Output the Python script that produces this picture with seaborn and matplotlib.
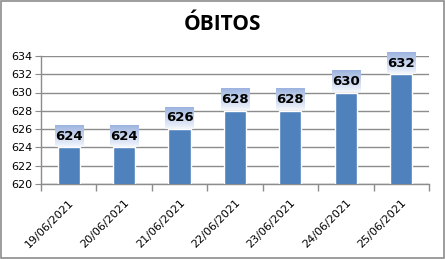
import numpy as np
import pandas as pd
import matplotlib
matplotlib.use("Agg")
import matplotlib.pyplot as plt
from matplotlib.patches import Rectangle
import seaborn as sns

dates = ["19/06/2021", "20/06/2021", "21/06/2021", "22/06/2021",
         "23/06/2021", "24/06/2021", "25/06/2021"]
obitos = [624, 624, 626, 628, 628, 630, 632]
title = "ÓBITOS"

sns.set_style("white")
plt.rcParams['font.family'] = ['DejaVu Sans']
plt.rcParams['text.color'] = 'black'
plt.rcParams['xtick.color'] = 'black'
plt.rcParams['ytick.color'] = 'black'

fig = plt.figure(figsize=(4.45, 2.59), dpi=100)
ax = fig.add_axes([0.092, 0.290, 0.872, 0.494])

df = pd.DataFrame({"data": dates, "obitos": obitos})
sns.barplot(data=df, x="data", y="obitos", color="#4F81BD", saturation=1,
            width=0.4, ax=ax, zorder=3)

ax.set_ylim(620, 634)
ax.set_yticks(np.arange(620, 635, 2))
ax.set_xlim(-0.5, len(dates) - 0.5)
ax.set_xlabel("")
ax.set_ylabel("")
ax.yaxis.grid(True, color="#8C8C8C", linewidth=1.0, zorder=0)
ax.set_axisbelow(True)
for s in ["top", "right"]:
    ax.spines[s].set_visible(False)
for s in ["left", "bottom"]:
    ax.spines[s].set_color("#8C8C8C")
    ax.spines[s].set_linewidth(1.0)

ax.tick_params(axis="y", left=True, length=4, color="#8C8C8C", labelsize=8,
               labelcolor="black", pad=2)
ax.set_xticks(np.arange(len(dates)))
ax.set_xticklabels(dates, rotation=45, ha="right", rotation_mode="anchor",
                   fontsize=8, color="black")
ax.tick_params(axis="x", bottom=False, pad=6)
ax.set_xticks(np.arange(-0.5, len(dates), 1), minor=True)
ax.tick_params(axis="x", which="minor", bottom=True, length=5,
               color="#8C8C8C", width=1.0)

# gradient value labels
grad = np.linspace(0, 1, 50).reshape(-1, 1)
cmap = matplotlib.colors.LinearSegmentedColormap.from_list(
    "g", ["#9DB4E0", "#F4F7FC"])
box_h = 2.35
for i, v in enumerate(obitos):
    ax.imshow(grad, extent=[i - 0.255, i + 0.255, v + 0.05, v + box_h],
              cmap=cmap, aspect="auto", origin="upper", zorder=4,
              clip_on=False)
    ax.text(i, v + box_h / 2 + 0.05, str(v), ha="center", va="center",
            fontsize=9.5, fontweight="bold", color="black", zorder=5,
            clip_on=False)
ax.set_xlim(-0.5, len(dates) - 0.5)
ax.set_ylim(620, 634)

fig.text(0.5, 0.905, title, ha="center", va="center", fontsize=15,
         fontweight="bold", color="black",
         family=["Open Sans", "DejaVu Sans"])

fig.patches.append(Rectangle((0.002, 0.004), 0.995, 0.992,
                             transform=fig.transFigure, fill=False,
                             edgecolor="#8C8C8C", linewidth=1.2))

fig.savefig("out.png", dpi=100)
